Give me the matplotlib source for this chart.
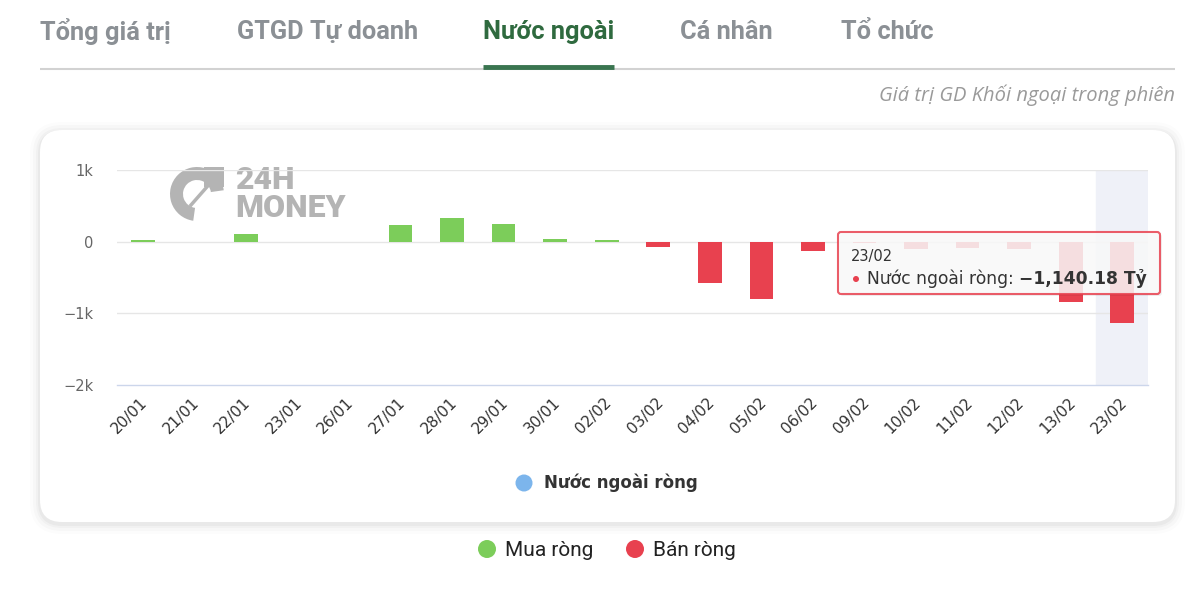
"""Foreign investors' net trading value chart (24H Money style)."""

import matplotlib

matplotlib.use("Agg")
import matplotlib.pyplot as plt
from matplotlib.patches import Circle, FancyBboxPatch, Wedge
from matplotlib.transforms import ScaledTranslation

# Data (billion VND, "Tỷ").
DATES = [
    "20/01", "21/01", "22/01", "23/01", "26/01", "27/01", "28/01", "29/01",
    "30/01", "02/02", "03/02", "04/02", "05/02", "06/02", "09/02", "10/02",
    "11/02", "12/02", "13/02", "23/02",
]
NET_VALUES = [
    25, 0, 110, 0, 0, 235, 330, 250,
    40, 20, -70, -575, -803, -128, -15, -100,
    -95, -100, -847, -1140.18,
]
Y_TICKS = [-2000, -1000, 0, 1000]
Y_TICK_LABELS = ["−2k", "−1k", "0", "1k"]
TABS = ["Tổng giá trị", "GTGD Tự doanh", "Nước ngoài", "Cá nhân", "Tổ chức"]
TAB_X = [40, 237, 483, 680, 841]
ACTIVE_TAB = 2
HIGHLIGHT_INDEX = 19
TOOLTIP_VALUE = "−1,140.18 Tỷ"

GREEN = "#7ccd5a"
RED = "#e8414f"
BLUE = "#7cb5ec"
TAB_GRAY = "#8b9095"
TAB_GREEN = "#2f6a3f"

W, H = 1200, 595
fig = plt.figure(figsize=(W / 100, H / 100), dpi=100)
fig.patch.set_facecolor("white")

# Background axes in pixel coordinates for the page decoration.
bg = fig.add_axes([0, 0, 1, 1], zorder=0)
bg.set_xlim(0, W)
bg.set_ylim(H, 0)
bg.axis("off")

for i, (label, x) in enumerate(zip(TABS, TAB_X)):
    bg.text(x, 32, label, fontsize=18.3, fontweight="bold", family="Roboto",
            color=TAB_GREEN if i == ACTIVE_TAB else TAB_GRAY,
            ha="left", va="center")
bg.plot([40, 1175], [69, 69], color="#d2d2d2", lw=1.5, solid_capstyle="butt")
bg.plot([483, 614], [67, 67], color="#3a7550", lw=3.5, solid_capstyle="butt")
bg.text(1175, 95, "Giá trị GD Khối ngoại trong phiên", fontsize=14.5,
        style="italic", family="Open Sans", color="#9a9a9a", ha="right", va="center")

# Card with soft shadow.
for grow, alpha in [(10, 0.012), (7, 0.018), (4, 0.025), (2, 0.03)]:
    bg.add_patch(FancyBboxPatch((40 - grow, 130 - grow + 2), 1135 + 2 * grow,
                                392 + 2 * grow,
                                boxstyle=f"round,pad=0,rounding_size={22 + grow}",
                                facecolor="black", edgecolor="none", alpha=alpha))
bg.add_patch(FancyBboxPatch((40, 130), 1135, 392,
                            boxstyle="round,pad=0,rounding_size=22",
                            facecolor="white", edgecolor="none"))

# Watermark logo.
wm = "#b4b4b4"
bg.add_patch(Wedge((197, 194), 27, 98, 352, width=13, facecolor=wm, edgecolor="none"))
bg.add_patch(FancyBboxPatch((204, 167), 20, 20, boxstyle="square,pad=0",
                            facecolor=wm, edgecolor="none"))
bg.plot([191, 213], [205, 180], color=wm, lw=2.5)
bg.text(235, 194, "24H\nMONEY", fontsize=23, fontweight="heavy", family="Roboto",
        color=wm, ha="left", va="center", linespacing=0.92)

# Legends.
bg.add_patch(Circle((524, 483), 8.5, facecolor=BLUE, edgecolor="none"))
bg.text(544, 483, "Nước ngoài ròng", fontsize=12, fontweight="bold",
        family="DejaVu Sans", color="#333333", ha="left", va="center")
bg.add_patch(Circle((487, 549), 9, facecolor=GREEN, edgecolor="none"))
bg.text(505, 550, "Mua ròng", fontsize=15, family="Roboto", color="#222222",
        ha="left", va="center")
bg.add_patch(Circle((635, 549), 9, facecolor=RED, edgecolor="none"))
bg.text(653, 550, "Bán ròng", fontsize=15, family="Roboto", color="#222222",
        ha="left", va="center")

# Chart axes.
left, right, top, bottom = 117, 1148, 170, 385
ax = fig.add_axes([left / W, 1 - bottom / H, (right - left) / W, (bottom - top) / H],
                  zorder=1)
ax.set_facecolor("none")
xs = list(range(len(DATES)))
colors = [GREEN if v >= 0 else RED for v in NET_VALUES]
ax.axvspan(HIGHLIGHT_INDEX - 0.5, HIGHLIGHT_INDEX + 0.5, color="#eff1f8", zorder=0)
ax.bar(xs, NET_VALUES, width=0.46, color=colors, zorder=3)
ax.set_xlim(-0.5, len(DATES) - 0.5)
ax.set_ylim(-2000, 1000)
ax.set_yticks(Y_TICKS)
ax.set_yticklabels(Y_TICK_LABELS, family="DejaVu Sans")
for y in Y_TICKS[1:]:
    ax.axhline(y, color="#e6e6e6", lw=1, zorder=1)
for side in ["top", "right", "left"]:
    ax.spines[side].set_visible(False)
ax.spines["bottom"].set_color("#ccd6eb")
ax.spines["bottom"].set_linewidth(1)
ax.tick_params(axis="y", length=0, pad=17, labelsize=10.5, labelcolor="#666666")
ax.tick_params(axis="x", length=0, pad=7, labelsize=11, labelcolor="#333333")
ax.set_xticks(xs)
ax.set_xticklabels(DATES, rotation=45, ha="right", va="top", rotation_mode="anchor",
                   family="DejaVu Sans")
shift = ScaledTranslation(-3 / 100, 0, fig.dpi_scale_trans)
for lbl in ax.get_xticklabels():
    lbl.set_transform(lbl.get_transform() + shift)

# Tooltip overlay.
ov = fig.add_axes([0, 0, 1, 1], zorder=5)
ov.set_xlim(0, W)
ov.set_ylim(H, 0)
ov.axis("off")
ov.patch.set_alpha(0)
ov.add_patch(FancyBboxPatch((840, 234), 322, 62, boxstyle="round,pad=0,rounding_size=3",
                            facecolor="black", edgecolor="none", alpha=0.06))
ov.add_patch(FancyBboxPatch((838, 232), 322, 62, boxstyle="round,pad=0,rounding_size=3",
                            facecolor="#fbfbfb", edgecolor=RED, lw=1.5, alpha=0.85))
ov.text(851, 256, DATES[HIGHLIGHT_INDEX], fontsize=10.5, family="DejaVu Sans",
        color="#333333", ha="left", va="center")
ov.add_patch(Circle((856, 279), 3, facecolor=RED, edgecolor="none"))
t1 = ov.text(867, 279, "Nước ngoài ròng: ", fontsize=12.3, family="DejaVu Sans",
             color="#333333", ha="left", va="center")
ov.annotate(TOOLTIP_VALUE, xy=(1, 0.5), xycoords=t1, fontsize=12.3,
            fontweight="bold", family="DejaVu Sans", color="#333333",
            ha="left", va="center")

fig.savefig("out.png", dpi=100)
